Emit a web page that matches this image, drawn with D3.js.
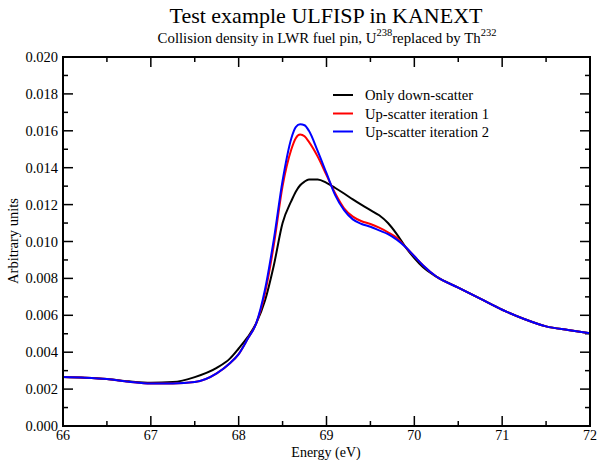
<!DOCTYPE html>
<html><head><meta charset="utf-8">
<script src="https://cdn.jsdelivr.net/npm/d3@7"></script>
<style>body{margin:0;background:#fff}svg{display:block}</style>
</head><body><svg id="c" width="597" height="460" font-family="'Liberation Serif','Times New Roman',serif" style="font-family:'Liberation Serif','Times New Roman',serif"></svg>
<script>
const energy = [66.0,66.25,66.5,66.75,67.0,67.25,67.5,67.75,67.9,68.0,68.1,68.2,68.3,68.4,68.5,68.6,68.65,68.7,68.75,68.8,68.9,69.0,69.1,69.2,69.3,69.4,69.5,69.6,69.7,69.8,69.9,70.0,70.1,70.25,70.5,70.75,71.0,71.25,71.5,71.75,72.0];
const downScatter = [0.00265,0.00262,0.00255,0.00242,0.00234,0.00238,0.00265,0.00315,0.00365,0.0042,0.0048,0.00557,0.0068,0.0087,0.0110,0.0122,0.0127,0.01305,0.01325,0.01336,0.01336,0.01318,0.0129,0.0126,0.01228,0.01198,0.0117,0.01142,0.011,0.0104,0.0097,0.0091,0.0086,0.0081,0.0075,0.0069,0.0063,0.0058,0.0054,0.0052,0.00502];
const upIter1 = [0.00265,0.00262,0.00255,0.0024,0.0023,0.0023,0.00238,0.00285,0.0034,0.0039,0.0047,0.00557,0.0072,0.0098,0.0130,0.0150,0.0156,0.0158,0.0157,0.0154,0.0146,0.0136,0.0126,0.0118,0.01135,0.0111,0.01095,0.01075,0.0105,0.0102,0.0097,0.0092,0.0087,0.0081,0.0075,0.0069,0.0063,0.0058,0.0054,0.0052,0.00502];
const upIter2 = [0.00265,0.00262,0.00255,0.0024,0.0023,0.0023,0.00238,0.00285,0.0034,0.0039,0.0047,0.00557,0.0074,0.0101,0.0133,0.0156,0.0162,0.01635,0.0163,0.0160,0.0149,0.0137,0.0125,0.0117,0.0112,0.01095,0.0108,0.0106,0.0104,0.0101,0.0097,0.0092,0.0087,0.0081,0.0075,0.0069,0.0063,0.0058,0.0054,0.0052,0.00502];
const seriesNames = ["Only down-scatter","Up-scatter iteration 1","Up-scatter iteration 2"];
const seriesColors = ["#000000","#ff0000","#0000ff"];
const xTicks = [66,67,68,69,70,71,72];
const yTicks = [0,0.002,0.004,0.006,0.008,0.010,0.012,0.014,0.016,0.018,0.020];

const FONT = "'Liberation Serif','Times New Roman',serif";
const svg = d3.select("#c");
const L=63, R=590, T=57, B=426;
const x = d3.scaleLinear().domain([66,72]).range([L,R]);
const y = d3.scaleLinear().domain([0,0.02]).range([B,T]);

function txt(sel){ return sel.append("text").attr("font-family",FONT).attr("fill","#000"); }

// ticks (inward, all sides)
const g = svg.append("g");
const xMinor = d3.range(66,72.01,0.5);
const yMinor = d3.range(0,0.02001,0.001);
xMinor.forEach(v=>{
  const major = Math.abs(v-Math.round(v))<1e-6;
  const len = major?10:5;
  g.append("line").attr("x1",x(v)).attr("x2",x(v)).attr("y1",B).attr("y2",B-len).attr("stroke","#000").attr("stroke-width",1.5);
  g.append("line").attr("x1",x(v)).attr("x2",x(v)).attr("y1",T).attr("y2",T+len).attr("stroke","#000").attr("stroke-width",1.5);
});
yMinor.forEach((v,i)=>{
  const major = i%2===0;
  const len = major?10:5;
  g.append("line").attr("y1",y(v)).attr("y2",y(v)).attr("x1",L).attr("x2",L+len).attr("stroke","#000").attr("stroke-width",1.5);
  g.append("line").attr("y1",y(v)).attr("y2",y(v)).attr("x1",R).attr("x2",R-len).attr("stroke","#000").attr("stroke-width",1.5);
});
xTicks.forEach(v=>{
  txt(g).attr("x",x(v)).attr("y",B+14).attr("text-anchor","middle").attr("font-size",14).text(v);
});
yTicks.forEach(v=>{
  txt(g).attr("x",L-5).attr("y",y(v)+5).attr("text-anchor","end").attr("font-size",14.5).text(v.toFixed(3));
});

// curves
const allSeries = [downScatter, upIter1, upIter2];
const line = d3.line().x(d=>x(d[0])).y(d=>y(d[1])).curve(d3.curveMonotoneX);
svg.append("clipPath").attr("id","clp").append("rect").attr("x",L).attr("y",T).attr("width",R-L).attr("height",B-T);
allSeries.forEach((s,i)=>{
  svg.append("path").attr("d",line(energy.map((e,j)=>[e,s[j]])))
    .attr("fill","none").attr("stroke",seriesColors[i]).attr("stroke-width",2)
    .attr("clip-path","url(#clp)");
});

// frame
svg.append("rect").attr("x",L).attr("y",T).attr("width",R-L).attr("height",B-T)
  .attr("fill","none").attr("stroke","#000").attr("stroke-width",2);

// legend
const legY = [95,113.5,131.5];
seriesNames.forEach((n,i)=>{
  svg.append("line").attr("x1",333).attr("x2",353).attr("y1",legY[i]).attr("y2",legY[i]).attr("stroke",seriesColors[i]).attr("stroke-width",2);
  txt(svg).attr("x",365).attr("y",legY[i]+5).attr("font-size",14.6).text(n);
});

// titles
txt(svg).attr("x",326).attr("y",23).attr("text-anchor","middle").attr("font-size",22).text("Test example ULFISP in KANEXT");
const st = txt(svg).attr("x",327).attr("y",43).attr("text-anchor","middle").attr("font-size",14.8);
st.append("tspan").text("Collision density in LWR fuel pin, U");
st.append("tspan").attr("font-size",10.5).attr("dy",-7).text("238");
st.append("tspan").attr("dy",7).text("replaced by Th");
st.append("tspan").attr("font-size",10.5).attr("dy",-7).text("232");

txt(svg).attr("x",326).attr("y",457).attr("text-anchor","middle").attr("font-size",14).text("Energy (eV)");
txt(svg).attr("transform","translate(18,241) rotate(-90)").attr("text-anchor","middle").attr("font-size",14.5).text("Arbitrary units");
</script></body></html>
